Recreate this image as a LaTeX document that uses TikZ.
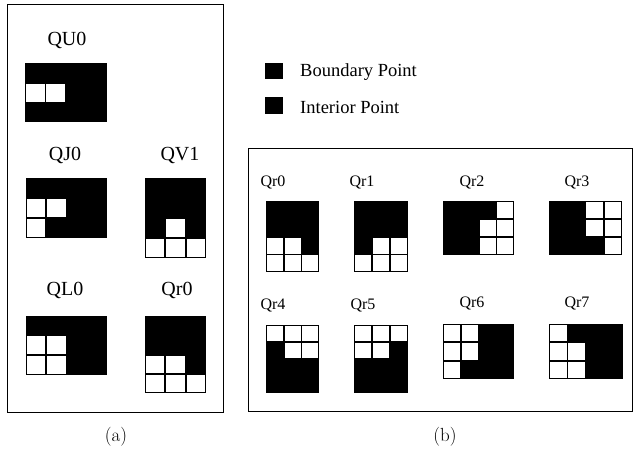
\documentclass[tikz,border=0pt]{standalone}
\usepackage{fontspec}
\newfontfamily\tms{Liberation Serif}
\newcommand\qgrid[7]{% x y cols rows cellw cellh whitecells
  \fill[black] (#1,#2) rectangle ++({#3*#5},{#4*#6});
  \foreach \c/\r in {#7} {\draw[cellwhite] ({#1+(\c-1)*#5+0.4},{#2+(\r-1)*#6+0.4}) rectangle ++({#5-0.8},{#6-0.8});}
}
\begin{document}
\begin{tikzpicture}[x=1pt,y=-1pt,
  frame/.style={draw=black, line width=0.9pt},
  lab/.style={font=\tms\fontsize{20}{23}\selectfont, inner sep=0pt},
  slab/.style={font=\tms\fontsize{16}{19}\selectfont, inner sep=0pt},
  leg/.style={font=\tms\fontsize{18.5}{21}\selectfont, inner sep=0pt, anchor=west},
  captext/.style={font=\fontsize{19}{22}\selectfont, inner sep=0pt},
  cellwhite/.style={fill=white, draw=black, line width=1pt}]
\useasboundingbox (0,0) rectangle (636,471);
\fill[white] (0,0) rectangle (636,471);

% frames
\draw[frame] (7,4) rectangle (223,412);
\draw[frame] (248,148) rectangle (632,411);

% (a) panel
\node[lab] (lQU0) at (67,40) {QU0};
\qgrid{25}{63}{4}{3}{20.5}{19.7}{1/2,2/2}
\node[lab] (lQJ0) at (65,155) {QJ0};
\qgrid{26}{178}{4}{3}{20.3}{19.9}{1/2,2/2,1/3}
\node[lab] (lQV1) at (180,155) {QV1};
\qgrid{145}{178}{3}{4}{20.3}{20}{2/3,1/4,2/4,3/4}
\node[lab] (lQL0) at (65,290) {QL0};
\qgrid{26}{316}{4}{3}{20.3}{19.5}{1/2,2/2,1/3,2/3}
\node[lab] (lQr0) at (177,290) {Qr0};
\qgrid{145}{316}{3}{4}{20.3}{19.3}{1/3,2/3,1/4,2/4,3/4}

% legend
\fill[black] (265,63) rectangle (283,79);
\node[leg] (lb) at (300,72) {Boundary Point};
\fill[black] (265,97) rectangle (283,114);
\node[leg] (li) at (300,107) {Interior Point};

% (b) panel
\node[slab] (r0) at (273,182) {Qr0};
\qgrid{266}{201}{3}{4}{17.7}{17.8}{1/3,2/3,1/4,2/4,3/4}
\node[slab] (r1) at (362,182) {Qr1};
\qgrid{354}{201}{3}{4}{18}{17.8}{2/3,3/3,1/4,2/4,3/4}
\node[slab] (r2) at (472,182) {Qr2};
\qgrid{443}{201}{4}{3}{17.8}{18}{4/1,3/2,4/2,3/3,4/3}
\node[slab] (r3) at (577,182) {Qr3};
\qgrid{549}{201}{4}{3}{18.2}{18}{3/1,4/1,3/2,4/2,4/3}
\node[slab] (r4) at (273,305) {Qr4};
\qgrid{266}{325}{3}{4}{17.7}{17}{1/1,2/1,3/1,2/2,3/2}
\node[slab] (r5) at (363,305) {Qr5};
\qgrid{354}{325}{3}{4}{18}{17}{1/1,2/1,3/1,1/2,2/2}
\node[slab] (r6) at (472,303) {Qr6};
\qgrid{443}{324}{4}{3}{17.8}{18.3}{1/1,2/1,1/2,2/2,1/3}
\node[slab] (r7) at (577,303) {Qr7};
\qgrid{549}{324}{4}{3}{18.4}{18.3}{1/1,1/2,2/2,1/3,2/3}

% captions
\node[captext] (ca) at (116,437) {(a)};
\node[captext] (cb) at (445,437) {(b)};
\end{tikzpicture}
\end{document}
